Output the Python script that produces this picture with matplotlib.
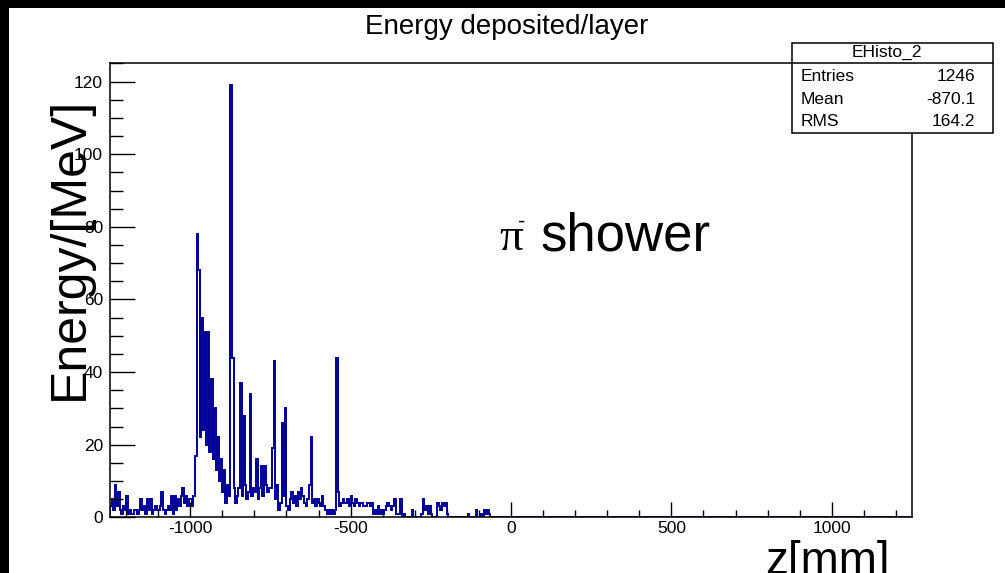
import numpy as np
import matplotlib
matplotlib.use("Agg")
import matplotlib.pyplot as plt
from matplotlib.patches import Rectangle
from matplotlib.lines import Line2D
from matplotlib.ticker import MultipleLocator

plt.rcParams["font.family"] = ["Liberation Sans", "DejaVu Sans"]
plt.rcParams["axes.unicode_minus"] = False

W, H = 1005, 573

# ── data: energy per 5 mm layer bin, z from -1250 to -50 ──
bin_width = 5
z_lo, z_hi = -1250, 1250
energy_dep = [
    3, 5, 2, 9, 3, 7, 2, 1, 3, 2,          # -1250 .. -1200
    6, 1, 2, 1, 1, 2, 2, 1, 2, 5,          # -1200 .. -1150
    2, 3, 1, 5, 2, 5, 1, 2, 3, 2,          # -1150 .. -1100
    2, 3, 7, 2, 1, 2, 3, 2, 6, 1,          # -1100 .. -1050
    6, 2, 5, 3, 6, 8, 4, 6, 3, 5,          # -1050 .. -1000
    5, 3, 6, 17, 78, 68, 22, 55, 24, 51,   # -1000 .. -950
    20, 51, 18, 38, 16, 30, 13, 22, 10, 16, # -950 .. -900
    7, 13, 4, 9, 6, 119, 44, 8, 4, 6,      # -900 .. -850
    8, 37, 6, 28, 9, 5, 7, 34, 6, 8,       # -850 .. -800
    7, 16, 5, 8, 14, 6, 14, 9, 7, 8,       # -800 .. -750
    8, 19, 43, 5, 9, 2, 4, 26, 6, 30,      # -750 .. -700
    3, 2, 5, 7, 4, 6, 3, 7, 5, 8,          # -700 .. -650
    6, 4, 3, 5, 9, 22, 4, 5, 3, 5,         # -650 .. -600
    4, 3, 6, 3, 2, 1, 2, 1, 2, 1,          # -600 .. -550
    2, 44, 7, 3, 4, 5, 4, 4, 5, 3,         # -550 .. -500
    6, 4, 3, 5, 4, 3, 4, 4, 3, 3,          # -500 .. -450
    4, 4, 3, 4, 1, 2, 1, 3, 1, 2,          # -450 .. -400
    1, 2, 3, 4, 3, 2, 3, 5, 1, 1,          # -400 .. -350
    1, 5, 0, 1, 0, 0, 0, 0, 2, 0,          # -350 .. -300
    0, 0, 0, 0, 1, 5, 2, 3, 1, 3,          # -300 .. -250
    1, 0, 0, 0, 4, 3, 2, 4, 3, 4,          # -250 .. -200
    1, 0, 0, 0, 0, 0, 0, 0, 0, 0,          # -200 .. -150
    0, 0, 0, 1, 0, 0, 0, 0, 2, 0,          # -150 .. -100
    0, 1, 0, 2, 1, 2, 1, 0, 0, 0,          # -100 .. -50
]
stats_names = ["Entries", "Mean", "RMS"]
stats_values = ["1246", "-870.1", "164.2"]

edges = np.arange(z_lo, z_hi + bin_width, bin_width)
n_empty = len(edges) - 1 - len(energy_dep)   # bins from -50 to 1250 are empty
counts = np.concatenate([energy_dep, np.zeros(n_empty)])


def fx(x):
    return x / W


def fy(y):
    return 1 - y / H


fig = plt.figure(figsize=(W / 100, H / 100), dpi=100, facecolor="white")

# black strips along the top and left edges of the screenshot
fig.patches.append(Rectangle((0, fy(8)), 1, 1 - fy(8), transform=fig.transFigure,
                             facecolor="black", edgecolor="none", zorder=0))
fig.patches.append(Rectangle((0, 0), fx(9), 1, transform=fig.transFigure,
                             facecolor="black", edgecolor="none", zorder=0))

L, R, T, B = 110, 912, 62.7, 517.3
ax = fig.add_axes([fx(L), fy(B), fx(R) - fx(L), fy(T) - fy(B)])
ax.stairs(counts, edges, color="#000099", lw=1.4)
ax.set_xlim(z_lo, z_hi)
ax.set_ylim(0, 125.2)

ax.xaxis.set_major_locator(MultipleLocator(500))
ax.xaxis.set_minor_locator(MultipleLocator(100))
ax.yaxis.set_major_locator(MultipleLocator(20))
ax.yaxis.set_minor_locator(MultipleLocator(5))
ax.tick_params(axis="x", which="major", direction="in", length=10.5, width=1,
               labelsize=12.5, pad=3)
ax.tick_params(axis="x", which="minor", direction="in", length=5, width=1)
ax.tick_params(axis="y", which="major", direction="in", length=18, width=1,
               labelsize=12.5, pad=5)
ax.tick_params(axis="y", which="minor", direction="in", length=9, width=1)
for s in ax.spines.values():
    s.set_linewidth(1.1)

# title and axis labels (ROOT-style placement)
fig.text(fx(507), fy(27), "Energy deposited/layer", ha="center", va="center",
         fontsize=20)
fig.text(fx(70), fy(248), "Energy/[MeV]", rotation=90, ha="center", va="center",
         fontsize=36)
fig.text(fx(890), fy(574), "z[mm]", ha="right", va="baseline", fontsize=33)

# pi- shower annotation
fig.text(fx(499), fy(250), "\u03c0", ha="left", va="baseline", fontsize=34,
         family=["Liberation Serif", "DejaVu Serif"])
fig.text(fx(522), fy(222), "-", ha="center", va="center", fontsize=16)
fig.text(fx(540), fy(250), "shower", ha="left", va="baseline", fontsize=38)

# stats box
bx0, bx1, by0, by1 = 792, 993, 42.7, 132.7
fig.patches.append(Rectangle((fx(bx0), fy(by1)), fx(bx1) - fx(bx0), fy(by0) - fy(by1),
                             transform=fig.transFigure, facecolor="white",
                             edgecolor="black", lw=1.1, zorder=5))
fig.lines.append(Line2D([fx(bx0), fx(bx1)], [fy(62.7), fy(62.7)],
                        transform=fig.transFigure, color="black", lw=1.1, zorder=6))
fig.text(fx(887), fy(52.5), "EHisto_2", ha="center", va="center", fontsize=12.5,
         zorder=7)
for i, (nm, val) in enumerate(zip(stats_names, stats_values)):
    yy = [76.5, 100, 122][i]
    fig.text(fx(801), fy(yy), nm, ha="left", va="center", fontsize=12.5, zorder=7)
    fig.text(fx(975), fy(yy), val, ha="right", va="center", fontsize=12.5, zorder=7)

fig.savefig("out.png", dpi=100, facecolor="white")
